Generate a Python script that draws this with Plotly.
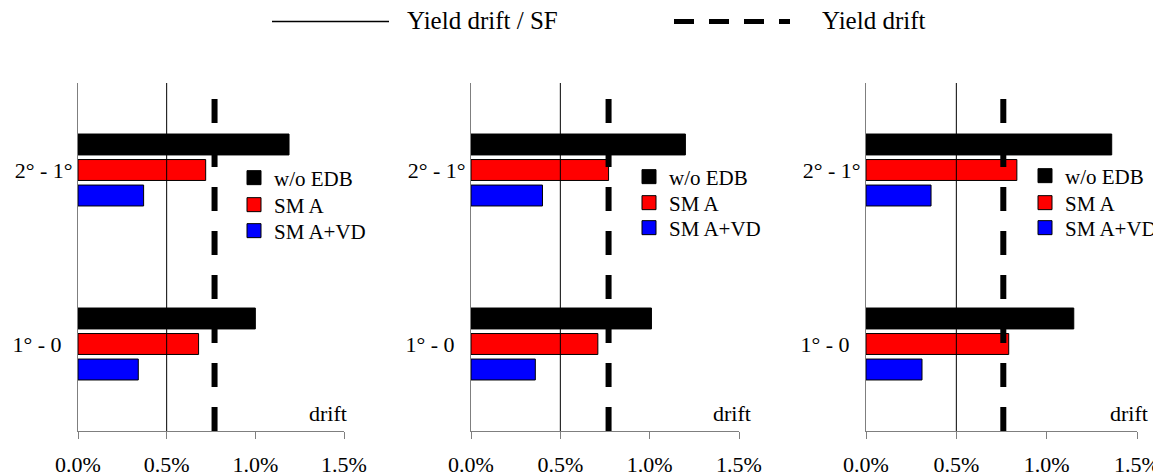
import plotly.graph_objects as go

# ---------------- data ----------------
categories = ["1° - 0", "2° - 1°"]
category_text = ["1° - 0\u00a0\u00a0", "2° - 1°"]
series_names = ["w/o EDB", "SMA", "SMA+VD"]
series_labels = ["w/o EDB", "SM A", "SM A+VD"]
wo_edb = [[1.00, 1.19], [1.01, 1.20], [1.15, 1.36]]
sma = [[0.68, 0.72], [0.71, 0.77], [0.79, 0.835]]
sma_vd = [[0.34, 0.37], [0.36, 0.40], [0.31, 0.36]]
yield_drift_sf = [0.5, 0.5, 0.5]
yield_drift = [0.77, 0.77, 0.76]
x_ticks = [0.0, 0.5, 1.0, 1.5]
x_ticktext = ["0.0%", "0.5%", "1.0%", "1.5%"]

# ---------------- layout constants ----------------
PAGE_OFF = 8                     # default body margin of the page
WIN_W, WIN_H = 1161, 476
W, H = WIN_W - PAGE_OFF, WIN_H - PAGE_OFF
FONT = "Liberation Serif"
colors = {"w/o EDB": "#000000", "SMA": "#FF0000", "SMA+VD": "#0000FF"}
panel_px = [(78, 344), (471, 739), (866, 1137)]
y_top_px, y_bot_px = 83, 431
legend_text_x = [272, 667, 1063]
legend_rows_y = [[178, 205, 231], [177, 203, 228], [176, 203, 228]]
drift_px = [349, 753, 1150]


def px_x(p):
    return (p - PAGE_OFF) / W


def px_y(p):
    return (WIN_H - p) / H


fig = go.Figure()

values = {"w/o EDB": wo_edb, "SMA": sma, "SMA+VD": sma_vd}
leg_idx = 0
for i in range(3):
    ax = "" if i == 0 else str(i + 1)
    # add bottom-most first (horizontal grouping puts first trace lowest)
    for k in reversed(range(len(series_names))):
        name, label = series_names[k], series_labels[k]
        fig.add_trace(go.Bar(
            y=categories, x=values[name][i], orientation="h", name=label,
            marker=dict(color=colors[name], line=dict(color="#000000", width=1)),
            xaxis="x" + ax, yaxis="y" + ax, showlegend=False,
        ))
    # legend entries (square swatches), one small legend per entry
    for k in range(len(series_names)):
        name, label = series_names[k], series_labels[k]
        leg_idx += 1
        leg = "legend" if leg_idx == 1 else f"legend{leg_idx}"
        fig.add_trace(go.Scatter(
            x=[None], y=[None], mode="markers", name=label,
            marker=dict(symbol="square", size=14, color=colors[name],
                        line=dict(color="#000000", width=1)),
            xaxis="x" + ax, yaxis="y" + ax, legend=leg, showlegend=True,
            hoverinfo="skip",
        ))
        fig.layout[leg] = dict(
            x=px_x(legend_text_x[i] - 38), y=px_y(legend_rows_y[i][k]),
            xanchor="left", yanchor="middle",
            font=dict(family=FONT, size=21, color="#000000"),
            bgcolor="rgba(0,0,0,0)", itemclick=False, itemdoubleclick=False,
        )
    xa = dict(
        domain=[px_x(panel_px[i][0]), px_x(panel_px[i][1])], range=[0, 1.5],
        anchor="y" + ax, showgrid=False, zeroline=False, showline=True,
        linecolor="#7f7f7f", linewidth=1, ticks="outside", ticklen=7,
        tickcolor="#7f7f7f", tickvals=x_ticks, ticktext=x_ticktext,
        tickfont=dict(family=FONT, size=22, color="#000000"),
        ticklabelstandoff=7, automargin=False,
    )
    ya = dict(
        domain=[px_y(y_bot_px), px_y(y_top_px)], range=[-0.5, 1.5],
        anchor="x" + ax, type="category", showgrid=False, zeroline=False,
        showline=True, linecolor="#7f7f7f", linewidth=1, ticks="",
        tickvals=categories, ticktext=category_text,
        tickfont=dict(family=FONT, size=22, color="#000000"),
        automargin=False,
    )
    fig.layout["xaxis" + ax] = xa
    fig.layout["yaxis" + ax] = ya
    # reference lines
    fig.add_shape(type="line", xref="x" + ax, yref=f"y{ax} domain",
                  x0=yield_drift_sf[i], x1=yield_drift_sf[i], y0=0, y1=1,
                  line=dict(color="#000000", width=1))
    fig.add_shape(type="line", xref="x" + ax, yref=f"y{ax} domain",
                  x0=yield_drift[i], x1=yield_drift[i], y0=0, y1=1,
                  line=dict(color="#000000", width=6, dash="24px,20px"))
    fig.add_annotation(text="drift", xref="paper", yref="paper",
                       x=px_x(drift_px[i]), y=px_y(413), xanchor="right",
                       yanchor="middle", showarrow=False,
                       font=dict(family=FONT, size=22, color="#000000"))

# top legend for the reference lines
fig.add_shape(type="line", xref="paper", yref="paper",
              x0=px_x(272), x1=px_x(389), y0=px_y(21.5), y1=px_y(21.5),
              line=dict(color="#000000", width=1.5))
fig.add_annotation(text="Yield drift / SF", xref="paper", yref="paper",
                   x=px_x(405), y=px_y(20), xanchor="left", yanchor="middle",
                   showarrow=False, font=dict(family=FONT, size=25, color="#000000"))
fig.add_shape(type="line", xref="paper", yref="paper",
              x0=px_x(674), x1=px_x(790), y0=px_y(21.5), y1=px_y(21.5),
              line=dict(color="#000000", width=5, dash="20px,15px"))
fig.add_annotation(text="Yield drift", xref="paper", yref="paper",
                   x=px_x(820), y=px_y(20), xanchor="left", yanchor="middle",
                   showarrow=False, font=dict(family=FONT, size=25, color="#000000"))

fig.update_layout(
    width=W, height=H, margin=dict(l=0, r=0, t=0, b=0, autoexpand=False),
    plot_bgcolor="#FFFFFF", paper_bgcolor="#FFFFFF",
    barmode="group", bargap=0.56, bargroupgap=0.18,
    font=dict(family=FONT, color="#000000"),
)

fig.write_html("out.html")
